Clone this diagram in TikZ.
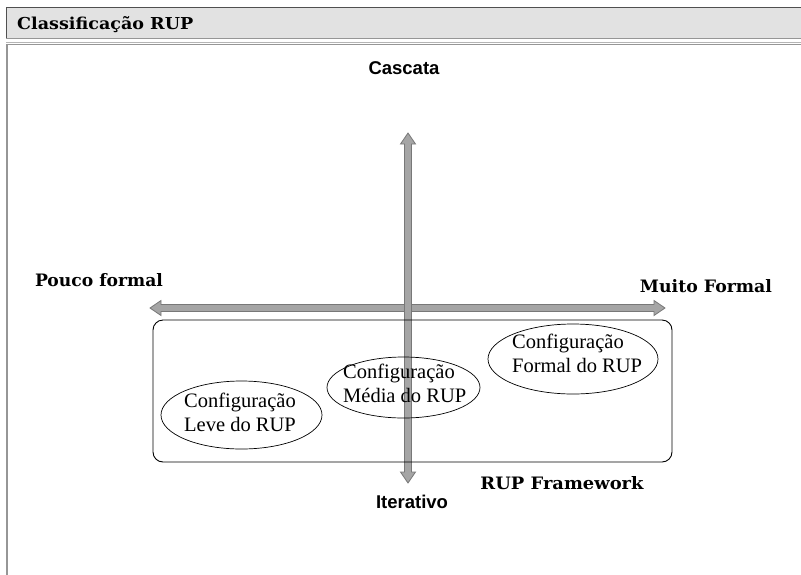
\documentclass[tikz,border=0pt]{standalone}
\usepackage{fontspec}
\usepackage{graphicx}
\setmainfont{Liberation Serif}
\newfontfamily\slabbold{DejaVu Serif}
\newfontfamily\axisfont{Liberation Sans}
\usetikzlibrary{calc,shapes.geometric}
% text fitted to a given width and height, in the slab bold face
\newcommand{\slabfit}[3]{\resizebox{#1}{#2}{\slabbold\bfseries #3}}
\definecolor{barfill}{RGB}{226,226,226}
\definecolor{barline}{RGB}{80,80,80}
\definecolor{panelline}{RGB}{150,150,150}
\definecolor{axisgray}{RGB}{165,165,165}
\definecolor{axisedge}{RGB}{120,120,120}
\tikzset{
  axisarrow/.style={fill=axisgray, draw=axisedge, line width=0.8pt, line join=miter},
  axislabel/.style={inner sep=0pt, font=\axisfont\bfseries\fontsize{18.5}{20}\selectfont},
  slablabel/.style={inner sep=0pt},
  config/.style={draw=black, line width=0.7pt, ellipse, inner sep=0pt},
  configtext/.style={inner sep=0pt, align=left, font=\fontsize{20.5}{23.5}\selectfont},
  framebox/.style={draw=black, line width=0.9pt, rounded corners=10pt}
}
\begin{document}
\begin{tikzpicture}[x=1pt,y=-1pt]
\useasboundingbox (0,0) rectangle (801,574);
\fill[white] (0,0) rectangle (801,574);

% title bar
\fill[barfill] (6,7) rectangle (805,38);
\draw[barline, line width=1.4pt] (6.5,38) -- (6.5,7.5) -- (805,7.5);
\draw[panelline, line width=1pt] (6,38.5) -- (805,38.5);
\node[slablabel, anchor=west] (title) at (17,25) {\slabfit{176pt}{13pt}{Classificação RUP}};

% content panel border
\draw[panelline, line width=1.6pt] (6.8,578) -- (6.8,44.5) -- (805,44.5);
\draw[barfill!80!black, line width=0.6pt] (6,42) -- (805,42);

% axis end points
\coordinate (top) at (408,133);
\coordinate (bottom) at (408,483);
\coordinate (left) at (150,308);
\coordinate (right) at (665,308);

% horizontal axis: Pouco formal <-> Muito Formal
\filldraw[axisarrow]
  (left) -- ($(left)+(11,-7.5)$) -- ($(left)+(11,-3.5)$) -- ($(right)+(-11,-3.5)$)
  -- ($(right)+(-11,-7.5)$) -- (right) -- ($(right)+(-11,7.5)$) -- ($(right)+(-11,3.5)$)
  -- ($(left)+(11,3.5)$) -- ($(left)+(11,7.5)$) -- cycle;

% vertical axis: Cascata <-> Iterativo
\filldraw[axisarrow]
  (top) -- ($(top)+(7.5,11)$) -- ($(top)+(3.5,11)$) -- ($(bottom)+(3.5,-11)$)
  -- ($(bottom)+(7.5,-11)$) -- (bottom) -- ($(bottom)+(-7.5,-11)$) -- ($(bottom)+(-3.5,-11)$)
  -- ($(top)+(-3.5,11)$) -- ($(top)+(-7.5,11)$) -- cycle;

% axis labels
\node[axislabel] (cascata) at (404,68) {Cascata};
\node[axislabel] (iterativo) at (412,502) {Iterativo};
\node[slablabel] (pouco) at (99,280) {\slabfit{128pt}{13pt}{Pouco formal}};
\node[slablabel] (muito) at (706,286) {\slabfit{132pt}{13pt}{Muito Formal}};

% framework box
\draw[framebox] (153,320) rectangle (672,462);
\node[slablabel] (framework) at (562,483) {\slabfit{163pt}{13pt}{RUP Framework}};

% configurations
\node[config, minimum width=161pt, minimum height=68pt] (leve) at (241.5,415) {};
\node[configtext, anchor=north west] (levetext) at (184,393) {Configuração\\Leve do RUP};

\node[config, minimum width=153pt, minimum height=61pt] (media) at (403.5,387.5) {};
\node[configtext, anchor=north west] (mediatext) at (343,364) {Configuração\\Média do RUP};

\node[config, minimum width=170pt, minimum height=70pt] (formal) at (573,359) {};
\node[configtext, anchor=north west] (formaltext) at (512,334) {Configuração\\Formal do RUP};
\end{tikzpicture}
\end{document}
